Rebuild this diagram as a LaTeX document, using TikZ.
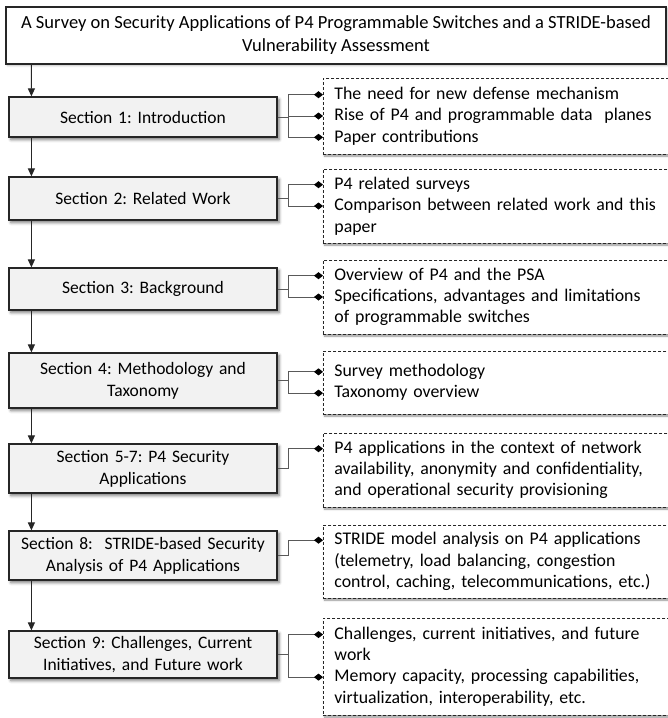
\documentclass[tikz,border=0pt]{standalone}
\usepackage{fontspec}
\setmainfont{Carlito}
\frenchspacing
\usetikzlibrary{arrows.meta,shadows.blur}

\tikzset{
  titlebox/.style={draw=black!85, line width=1.1pt, fill=white,
    minimum width=660pt, minimum height=57pt, align=center,
    font=\fontsize{18.5}{23}\selectfont,
    blur shadow={shadow xshift=1.5pt, shadow yshift=-1.5pt, shadow blur radius=2pt, shadow opacity=30}},
  secbox/.style={draw=black!85, line width=1.2pt, fill=black!5,
    minimum width=268pt, text width=255pt, align=center,
    font=\fontsize{17.5}{22}\selectfont,
    blur shadow={shadow xshift=2pt, shadow yshift=-2.5pt, shadow blur radius=3pt, shadow opacity=55}},
  itembox/.style={draw=black!85, line width=0.9pt, dash pattern=on 3pt off 2pt,
    fill=white, anchor=west, text width=328pt, inner xsep=11pt, align=left,
    font=\fontsize{17.8}{21.3}\selectfont,
    blur shadow={shadow xshift=1pt, shadow yshift=-2pt, shadow blur radius=2pt, shadow opacity=45}},
  flow/.style={draw=black!85, line width=1.1pt, -{Triangle[length=8pt,width=7pt]}},
  branch/.style={draw=black!65, line width=0.9pt,
    -{Diamond[length=9pt,width=7pt,color=black,fill=black]}},
}

\begin{document}
\begin{tikzpicture}[x=1pt,y=-1pt]
\useasboundingbox (0,0) rectangle (668,718);

% title
\node[titlebox] (title) at (336,35.5)
  {A Survey on Security Applications of P4 Programmable Switches and a STRIDE-based\\
   Vulnerability Assessment};

% section boxes
\node[secbox, minimum height=40pt] (s1) at (143,117) {Section 1: Introduction};
\node[secbox, minimum height=43pt] (s2) at (143,198.5) {Section 2: Related Work};
\node[secbox, minimum height=42pt] (s3) at (143,289) {Section 3: Background};
\node[secbox, minimum height=55pt] (s4) at (143,380.5) {Section 4: Methodology and\\ Taxonomy};
\node[secbox, minimum height=49pt] (s5) at (143,468.5) {Section 5-7: P4 Security\\ Applications};
\node[secbox, minimum height=49pt] (s6) at (143,555.5) {Section 8:\ \ STRIDE-based Security\\ Analysis of P4 Applications};
\node[secbox, minimum height=47pt] (s7) at (143,654.5) {Section 9: Challenges, Current\\ Initiatives, and Future work};

% detail boxes
\node[itembox, minimum height=76pt] (d1) at (323,116)
  {The need for new defense mechanism\\ Rise of P4 and programmable data\ \ planes\\ Paper contributions};
\node[itembox, minimum height=74pt] (d2) at (323,206)
  {P4 related surveys\\ Comparison between related work and this\\ paper};
\node[itembox, minimum height=74pt] (d3) at (323,297)
  {Overview of P4 and the PSA\\ Specifications, advantages and limitations\\ of programmable switches};
\node[itembox, minimum height=63pt] (d4) at (323,382.5)
  {Survey methodology\\ Taxonomy overview};
\node[itembox, minimum height=74pt] (d5) at (323,470)
  {P4 applications in the context of network\\ availability, anonymity and confidentiality,\\ and operational security provisioning};
\node[itembox, minimum height=73pt] (d6) at (323,561.5)
  {STRIDE model analysis on P4 applications\\ (telemetry, load balancing, congestion\\ control, caching, telecommunications, etc.)};
\node[itembox, minimum height=97pt] (d7) at (323,666.5)
  {Challenges, current initiatives, and future\\ work\\ Memory capacity, processing capabilities,\\ virtualization, interoperability, etc.};

% main flow down the left side
\draw[flow] ([xshift=26pt]title.south west) -- ([xshift=23pt]s1.north west);
\draw[flow] ([xshift=23pt]s1.south west) -- ([xshift=23pt]s2.north west);
\draw[flow] ([xshift=23pt]s2.south west) -- ([xshift=23pt]s3.north west);
\draw[flow] ([xshift=23pt]s3.south west) -- ([xshift=23pt]s4.north west);
\draw[flow] ([xshift=23pt]s4.south west) -- ([xshift=23pt]s5.north west);
\draw[flow] ([xshift=23pt]s5.south west) -- ([xshift=23pt]s6.north west);
\draw[flow] ([xshift=23pt]s6.south west) -- ([xshift=23pt]s7.north west);

% branches to the detail lines
\draw[branch] (s1.east) -- ++(11,0) |- ([yshift=21.3pt]d1.west);
\draw[branch] (s1.east) -- ++(11,0) |- (d1.west);
\draw[branch] (s1.east) -- ++(11,0) |- ([yshift=-21.3pt]d1.west);

\draw[branch] (s2.east) -- ++(11,0) |- ([yshift=21.3pt]d2.west);
\draw[branch] (s2.east) -- ++(11,0) |- (d2.west);

\draw[branch] (s3.east) -- ++(11,0) |- ([yshift=21.3pt]d3.west);
\draw[branch] (s3.east) -- ++(11,0) |- (d3.west);

\draw[branch] (s4.east) -- ++(11,0) |- ([yshift=10.65pt]d4.west);
\draw[branch] (s4.east) -- ++(11,0) |- ([yshift=-10.65pt]d4.west);

\draw[branch] (s5.east) -- ++(11,0) |- ([yshift=21.3pt]d5.west);

\draw[branch] (s6.east) -- ++(11,0) |- ([yshift=21.3pt]d6.west);

\draw[branch] (s7.east) -- ++(11,0) |- ([yshift=31.95pt]d7.west);
\draw[branch] (s7.east) -- ++(11,0) |- ([yshift=-10.65pt]d7.west);
\end{tikzpicture}
\end{document}
